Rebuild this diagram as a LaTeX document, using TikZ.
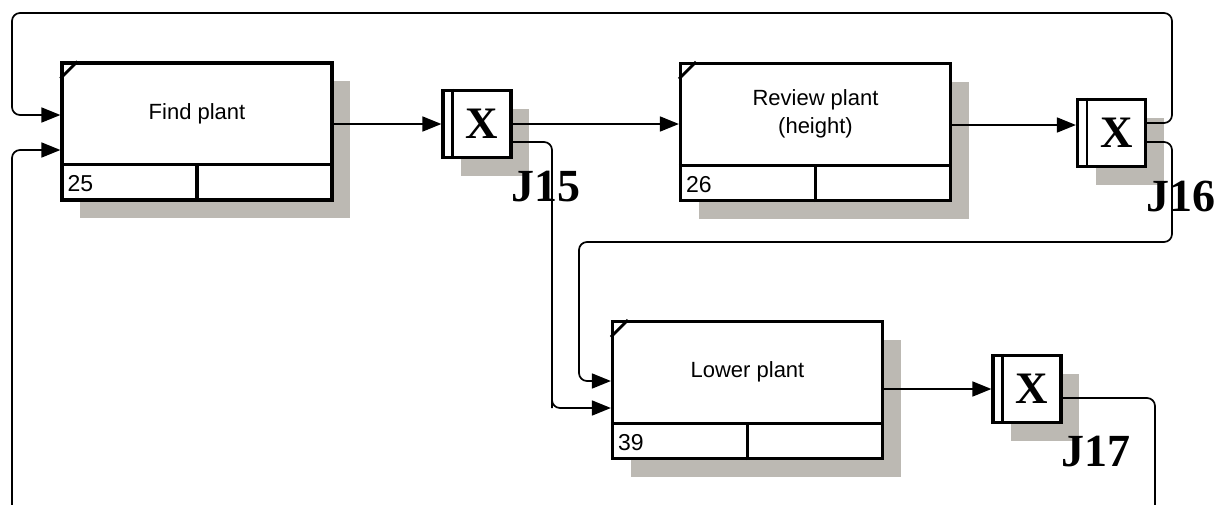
\documentclass[tikz,border=0pt]{standalone}
\usepackage{fontspec}
\setmainfont{Liberation Sans}
\newfontfamily\jfont{Liberation Serif}
\usetikzlibrary{arrows.meta,calc,shadows}
\definecolor{shadowc}{RGB}{188,185,179}
\begin{document}
\begin{tikzpicture}[x=1pt,y={(0pt,-1pt)},
  act/.style={draw,line width=3.2pt,fill=white,minimum width=270pt,minimum height=137pt,inner sep=0pt,
    drop shadow={shadow xshift=18pt,shadow yshift=-18pt,opacity=1,fill=shadowc}},
  jbox/.style={draw,line width=3.2pt,fill=white,minimum width=68pt,minimum height=67pt,inner sep=0pt,
    drop shadow={shadow xshift=18pt,shadow yshift=-18pt,opacity=1,fill=shadowc}},
  acttext/.style={font=\fontsize{22}{28}\selectfont,align=center,inner sep=0pt},
  numtext/.style={font=\fontsize{23}{24}\selectfont,anchor=west,inner sep=0pt},
  xtext/.style={font=\jfont\bfseries\fontsize{45}{45}\selectfont,inner sep=0pt},
  jlabel/.style={font=\jfont\bfseries\fontsize{46}{46}\selectfont,inner sep=0pt},
  thick2/.style={line width=3.2pt},
  conn/.style={line width=1.7pt,rounded corners=8pt},
  arr/.style={conn,-{Triangle[length=19pt,width=15pt]}}
]
\useasboundingbox (0,0) rectangle (1227,504);
\clip (0,0) rectangle (1227,504);

% activity boxes
\node[act] (A) at (197,131.5) {};
\node[act] (B) at (815.5,132) {};
\node[act] (C) at (747.5,390) {};

\foreach \n/\t/\num in {A/Find plant/25,B/{Review plant\\(height)}/26,C/Lower plant/39}{
  \draw[thick2] ($(\n.south west)+(0,-37)$) -- ($(\n.south east)+(0,-37)$);
  \draw[thick2] (\n.south) -- ($(\n.south)+(0,-37)$);
  \draw[line width=2.8pt] ($(\n.north west)+(0,17)$) -- ($(\n.north west)+(17,0)$);
  \node[acttext] (\n t) at ($(\n.center)+(0,-18)$) {\t};
  \node[numtext] (\n n) at ($(\n.south west)+(7,-18)$) {\num};
}

% junctions
\node[jbox] (J15) at (477,124) {};
\node[jbox] (J16) at (1111.5,133) {};
\node[jbox] (J17) at (1027,389) {};
\foreach \j in {J15,J16,J17}{
  \draw[line width=2.8pt] ($(\j.north west)+(11,0)$) -- ($(\j.south west)+(11,0)$);
  \node[xtext] (\j x) at ($(\j.center)+(5,0)$) {X};
}
\node[jlabel] (L15) at (546,187) {J15};
\node[jlabel] (L16) at (1181,196) {J16};
\node[jlabel] (L17) at (1096,452) {J17};

% connectors
\draw[arr] (J15.west -| A.east) -- (J15.west);
\draw[arr] (J15.east) -- (J15.east -| B.west);
\draw[arr] ([yshift=-18pt]J15.east) -| (552,400) |- ([yshift=-18pt]C.west);
\draw[arr] ([yshift=8pt]J16.west -| B.east) -- ([yshift=8pt]J16.west);
\draw[arr] ([yshift=10pt]J16.east) -| (1172,13) -| (12,60) |- ([yshift=16.5pt]A.west);
\draw[arr] ([yshift=-9pt]J16.east) -| (1172,242) -| (579,300) |- ([yshift=9pt]C.west);
\draw[arr] (J17.west -| C.east) -- (J17.west);
\draw[arr] ([yshift=-9pt]J17.east) -| (1155,540) -| (12,300) |- ([yshift=-18.5pt]A.west);
\end{tikzpicture}
\end{document}
